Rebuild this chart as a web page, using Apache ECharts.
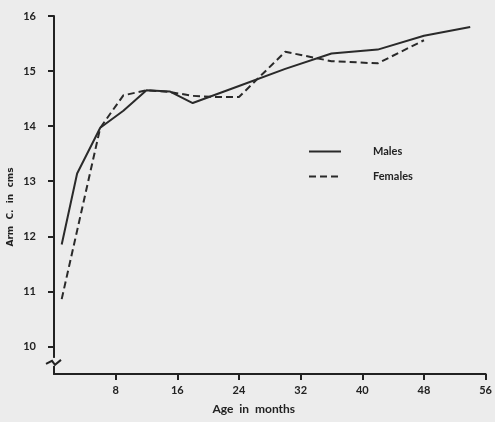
<!DOCTYPE html>
<html>
<head>
<meta charset="utf-8">
<script src="https://cdn.jsdelivr.net/npm/echarts@6/dist/echarts.min.js"></script>
<style>
  html, body { margin: 0; padding: 0; background: #ececec; }
  #chart { width: 495px; height: 422px; }
</style>
</head>
<body>
<div id="chart"></div>
<script>
// age in months, arm circumference in cm
const maleAges = [1, 3, 6, 9, 12, 15, 18, 24, 30, 36, 42, 48, 54]
const maleValues = [11.85, 13.14, 13.97, 14.28, 14.65, 14.63, 14.42, 14.73, 15.04, 15.32, 15.39, 15.64, 15.8]
const femaleAges = [1, 6, 9, 12, 15, 18, 21, 24, 30, 36, 42, 48]
const femaleValues = [10.86, 13.97, 14.56, 14.65, 14.62, 14.55, 14.53, 14.53, 15.35, 15.18, 15.14, 15.56]

const xTicks = [8, 16, 24, 32, 40, 48, 56]
const yTicks = [10, 11, 12, 13, 14, 15, 16]

const ink = '#222'
const font = 'Lato'

const pairs = (xs, ys) => xs.map((x, i) => [x, ys[i]])

const chart = echarts.init(document.getElementById('chart'))

const option = {
  backgroundColor: '#ececec',
  animation: false,
  grid: { left: 54, right: 2, top: 16, bottom: 48 },
  legend: {
    orient: 'vertical',
    left: 303,
    top: 141,
    itemWidth: 32,
    itemHeight: 12,
    itemGap: 14,
    itemStyle: { opacity: 0 },
    textStyle: { color: ink, fontFamily: font, fontWeight: 'bold', fontSize: 11, padding: [0, 0, 0, 27] },
    data: ['Males', 'Females']
  },
  xAxis: {
    type: 'value',
    min: 0,
    max: 56,
    interval: 8,
    name: 'Age  in  months',
    nameLocation: 'middle',
    nameGap: 29,
    nameTextStyle: { color: ink, fontFamily: font, fontWeight: 'bold', fontSize: 12, padding: [0, 32, 0, 0] },
    axisLine: { lineStyle: { color: ink, width: 2 } },
    axisTick: { customValues: xTicks, length: 6, lineStyle: { color: ink, width: 2 } },
    axisLabel: { customValues: xTicks, margin: 11, color: ink, fontFamily: font, fontWeight: 'bold', fontSize: 11 },
    splitLine: { show: false }
  },
  yAxis: {
    type: 'value',
    min: 9.5,
    max: 16,
    axisLine: { show: true, lineStyle: { color: ink, width: 2 } },
    axisTick: { show: true, customValues: yTicks, length: 6, lineStyle: { color: ink, width: 2 } },
    axisLabel: { customValues: yTicks, margin: 18, color: ink, fontFamily: font, fontWeight: 'bold', fontSize: 11 },
    splitLine: { show: false }
  },
  series: [
    {
      name: 'Males',
      type: 'line',
      data: pairs(maleAges, maleValues),
      symbol: 'none',
      lineStyle: { color: '#2a2a2a', width: 2 },
      itemStyle: { color: '#2a2a2a' }
    },
    {
      name: 'Females',
      type: 'line',
      data: pairs(femaleAges, femaleValues),
      symbol: 'none',
      lineStyle: { color: '#2a2a2a', width: 2, type: [7, 4] },
      itemStyle: { color: '#2a2a2a' }
    }
  ]
}

chart.setOption(option)

// axis break mark and rotated y title
const [ax, by] = chart.convertToPixel({ gridIndex: 0 }, [0, 9.72])
chart.setOption({
  graphic: [
    {
      type: 'rect',
      shape: { x: ax - 2, y: by - 4, width: 4, height: 8 },
      style: { fill: '#ececec' },
      z: 100
    },
    {
      type: 'polyline',
      shape: { points: [[ax - 8, by + 2], [ax - 2, by - 1], [ax + 1, by + 3], [ax + 7, by - 2]] },
      style: { stroke: ink, lineWidth: 2, fill: null },
      z: 101
    },
    {
      type: 'text',
      x: 11,
      y: 207,
      rotation: Math.PI / 2,
      style: {
        text: 'Arm  C.  in  cms',
        fill: ink,
        font: 'bold 9px "DejaVu Sans"',
        align: 'center',
        verticalAlign: 'middle'
      }
    }
  ]
})
</script>
</body>
</html>
